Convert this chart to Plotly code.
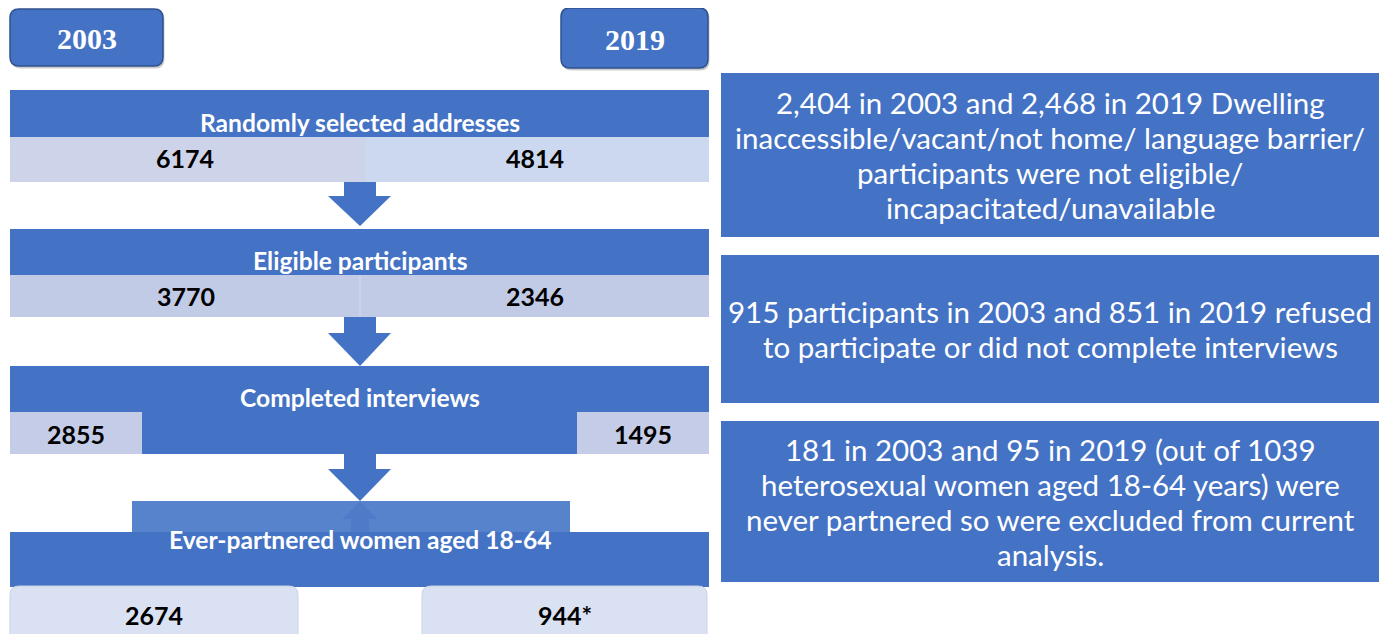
import plotly.graph_objects as go

# ---------------- data ----------------
years = ["2003", "2019"]
stage_labels = [
    "Randomly selected addresses",
    "Eligible participants",
    "Completed interviews",
    "Ever-partnered women aged 18-64",
]
n_2003 = [6174, 3770, 2855, 2674]
n_2019 = [4814, 2346, 1495, 944]
n_2019_marks = ["", "", "", "*"]

note_1 = ["2,404 in 2003 and 2,468 in 2019 Dwelling",
          "inaccessible/vacant/not home/ language barrier/",
          "participants were not eligible/",
          "incapacitated/unavailable"]
note_2 = ["915 participants in 2003 and 851 in 2019 refused",
          "to participate or did not complete interviews"]
note_3 = ["181 in 2003 and 95 in 2019 (out of 1039",
          "heterosexual women aged 18-64 years) were",
          "never partnered so were excluded from current",
          "analysis."]
notes = [note_1, note_2, note_3]

# ---------------- style / layout ----------------
W, H = 1387, 634
OFF = 8  # page body margin
BLUE = "#4472C4"
SANS = "Lato"
HEAD_SIZE = 24.6
NUM_SIZE = 25
NOTE_SIZE = 29.5
fig = go.Figure()
fig.add_trace(go.Scatter(x=[OFF + 1], y=[OFF + 1], mode="markers", marker=dict(opacity=0), hoverinfo="skip"))


def rect(x0, y0, x1, y1, fill, line=None, lw=0, layer="above"):
    fig.add_shape(type="rect", x0=x0, y0=y0, x1=x1, y1=y1, xref="x", yref="y",
                  fillcolor=fill, line=dict(color=line or fill, width=lw), layer=layer)


def rrect(x0, y0, x1, y1, r, fill, line=None, lw=0):
    p = (f"M {x0+r},{y0} L {x1-r},{y0} Q {x1},{y0} {x1},{y0+r} L {x1},{y1-r} "
         f"Q {x1},{y1} {x1-r},{y1} L {x0+r},{y1} Q {x0},{y1} {x0},{y1-r} "
         f"L {x0},{y0+r} Q {x0},{y0} {x0+r},{y0} Z")
    fig.add_shape(type="path", path=p, xref="x", yref="y", fillcolor=fill,
                  line=dict(color=line or fill, width=lw))


def poly(pts, fill):
    p = "M " + " L ".join(f"{x},{y}" for x, y in pts) + " Z"
    fig.add_shape(type="path", path=p, xref="x", yref="y", fillcolor=fill,
                  line=dict(color=fill, width=0))


def text(x, y, s, size, color, family=SANS, bold=False):
    if bold:
        s = f"<b>{s}</b>"
    fig.add_annotation(x=x, y=y, xref="x", yref="y", text=s, showarrow=False,
                       font=dict(family=family, size=size, color=color),
                       xanchor="center", yanchor="middle")


# year boxes
year_boxes = [(10, 9, 163, 66), (561, 8, 708, 68)]
for (x0, y0, x1, y1), yr in zip(year_boxes, years):
    rrect(x0 + 1.5, y0 + 2.5, x1 + 1.5, y1 + 2.5, 9, "rgba(0,0,0,0.2)")
    rrect(x0, y0, x1, y1, 9, BLUE, "#2F528F", 1.5)
    text((x0 + x1) / 2, (y0 + y1) / 2 + 1, yr, 30, "white", "Liberation Serif", True)


def down_arrow(stem_top, head_top, tip, fill=BLUE):
    poly([(344, stem_top), (376, stem_top), (376, head_top), (391, head_top),
          (360, tip), (328, head_top), (344, head_top)], fill)


L, R = 10, 709
# stage 1
rect(L, 90, R, 137, BLUE)
rect(L, 137, 365, 182, "#CDD3E8")
rect(365, 137, R, 182, "#CBD8EF")
text(360, 122, stage_labels[0], HEAD_SIZE, "white", bold=True)
text(185, 158, f"{n_2003[0]}", NUM_SIZE, "black", bold=True)
text(535, 158, f"{n_2019[0]}{n_2019_marks[0]}", NUM_SIZE, "black", bold=True)
down_arrow(182, 196, 226)

# stage 2
rect(L, 229, R, 275, BLUE)
rect(L, 275, R, 317, "#C2CBE6")
fig.add_shape(type="line", x0=360, x1=360, y0=275, y1=317, xref="x", yref="y",
              line=dict(color="#D3DAEE", width=1))
text(360, 260, stage_labels[1], HEAD_SIZE, "white", bold=True)
text(186, 296, f"{n_2003[1]}", NUM_SIZE, "black", bold=True)
text(535, 296, f"{n_2019[1]}{n_2019_marks[1]}", NUM_SIZE, "black", bold=True)
down_arrow(317, 333, 366)

# stage 3
rect(L, 366, R, 454, BLUE)
rect(L, 412, 142, 454, "#C4CCE7")
rect(577, 412, R, 454, "#C4CCE7")
text(360, 397, stage_labels[2], HEAD_SIZE, "white", bold=True)
text(76, 434, f"{n_2003[2]}", NUM_SIZE, "black", bold=True)
text(643, 434, f"{n_2019[2]}{n_2019_marks[2]}", NUM_SIZE, "black", bold=True)
down_arrow(454, 469, 501)

# stage 4
rect(132, 501, 570, 532, "#5782CC")
poly([(351, 532), (369, 532), (369, 519), (378, 519), (360, 502), (342, 519), (351, 519)], "#4E7AC8")
rect(L, 532, R, 587, BLUE)
text(360, 539, stage_labels[3], HEAD_SIZE, "white", bold=True)
rrect(10, 586, 298, 650, 9, "#D9E1F2", "#C9D1E3", 1)
rrect(422, 586, 707, 650, 9, "#D9E1F2", "#C9D1E3", 1)
text(154, 615, f"{n_2003[3]}", NUM_SIZE, "black", bold=True)
text(565, 615, f"{n_2019[3]}{n_2019_marks[3]}", NUM_SIZE, "black", bold=True)

# right-hand exclusion notes
note_boxes = [(73, 237), (255, 403), (421, 582)]
for (y0, y1), lines in zip(note_boxes, notes):
    rect(721, y0, 1379, y1, BLUE)
    yc = (y0 + y1) / 2
    n = len(lines)
    for i, ln in enumerate(lines):
        text(1050, yc + (i - (n - 1) / 2) * 35, ln, NOTE_SIZE, "white")

fig.update_layout(
    width=W, height=H, margin=dict(l=0, r=0, t=0, b=0),
    paper_bgcolor="white", plot_bgcolor="white", showlegend=False,
    xaxis=dict(range=[OFF, W + OFF], visible=False, fixedrange=True),
    yaxis=dict(range=[H + OFF, OFF], visible=False, fixedrange=True),
)
fig.write_html("out.html", config={"displayModeBar": False})
